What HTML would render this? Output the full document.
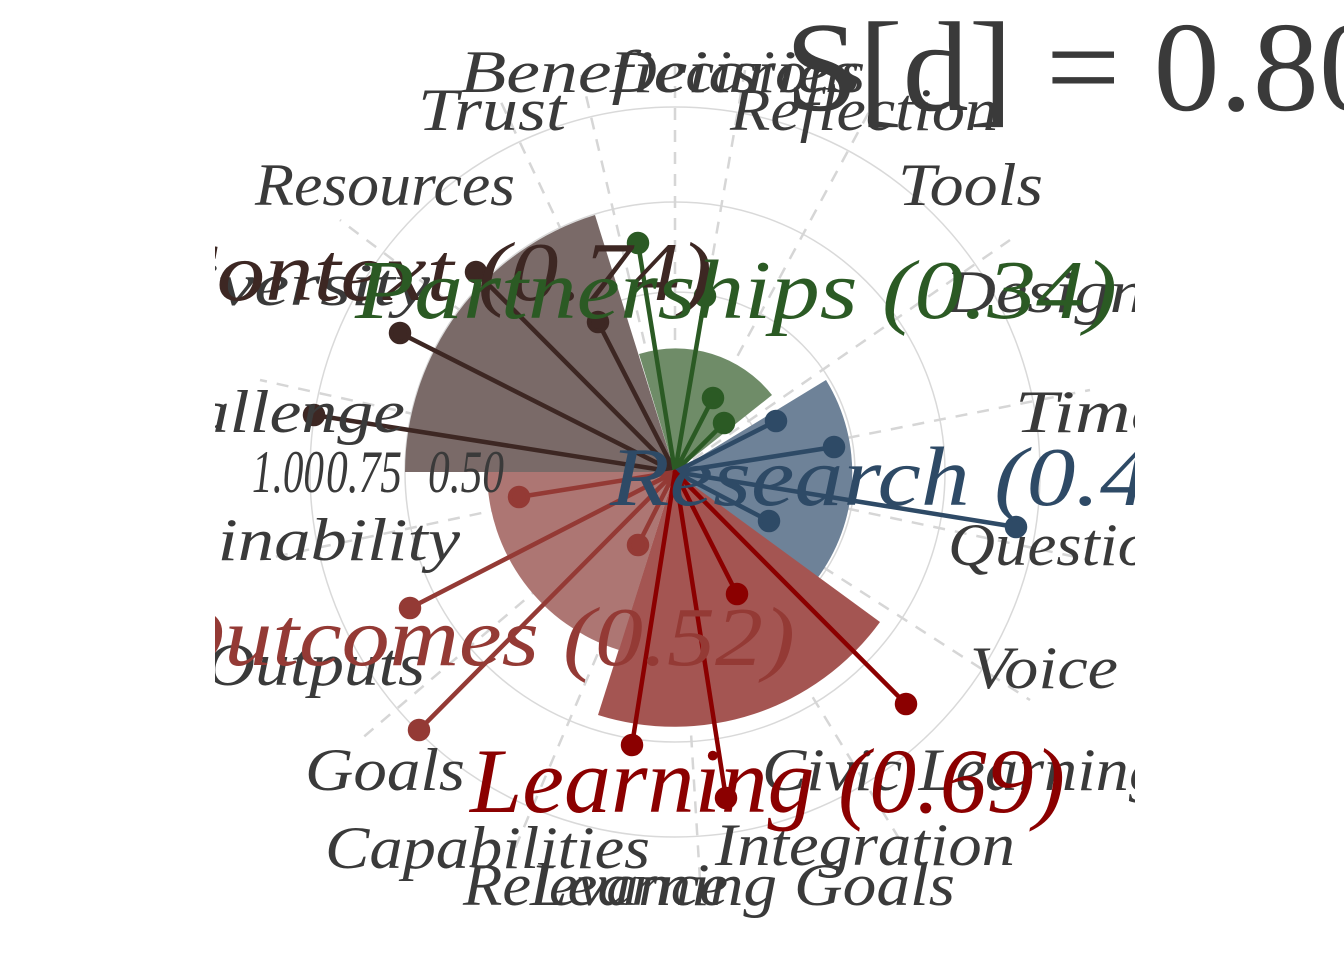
<!DOCTYPE html>
<html><head><meta charset="utf-8"><style>
html,body{margin:0;padding:0;background:#fff;}
svg{display:block;}
text{font-family:"Liberation Serif",serif;}
.l{font-style:italic;fill:#3a3a3a;font-size:60px;}
</style></head><body>
<svg width="1344" height="960" viewBox="0 0 1344 960" xmlns="http://www.w3.org/2000/svg">
<defs><clipPath id="c"><rect x="215" y="0" width="920" height="960"/></clipPath></defs>
<g clip-path="url(#c)">
<g fill="none" stroke="#d9d9d9" stroke-width="1.5">
<circle cx="675" cy="472" r="365"/><circle cx="675" cy="472" r="270"/><circle cx="675" cy="472" r="180"/><circle cx="675" cy="472" r="90"/>
</g>
<g stroke="#d6d6d6" stroke-width="2.5" stroke-dasharray="12,10">
<line x1="675" y1="472" x2="675" y2="60"/><line x1="675" y1="472" x2="745" y2="70"/><line x1="675" y1="472" x2="870" y2="110"/>
<line x1="675" y1="472" x2="1010" y2="240"/><line x1="675" y1="472" x2="1090" y2="390"/><line x1="675" y1="472" x2="1090" y2="560"/>
<line x1="675" y1="472" x2="1030" y2="700"/><line x1="675" y1="472" x2="900" y2="840"/><line x1="675" y1="472" x2="700" y2="880"/>
<line x1="675" y1="472" x2="510" y2="860"/><line x1="675" y1="472" x2="360" y2="740"/><line x1="675" y1="472" x2="260" y2="560"/>
<line x1="675" y1="472" x2="260" y2="380"/><line x1="675" y1="472" x2="340" y2="220"/><line x1="675" y1="472" x2="500" y2="100"/>
<line x1="675" y1="472" x2="580" y2="70"/>
</g>
<path d="M675 472 L405 472 A270 270 0 0 1 595 215 Z" fill="#7a6a68"/>
<path d="M675 472 L639 354 A123 123 0 0 1 772 395 Z" fill="#6f8c68"/>
<path d="M675 472 L826 380 A177 177 0 0 1 816 580 Z" fill="#6e8298"/>
<path d="M675 472 L880 622 A254 254 0 0 1 598 715 Z" fill="#a45552"/>
<path d="M675 472 L619 650 A188 188 0 0 1 487 472 Z" fill="#ad7673"/>
<g stroke-width="4.5" stroke-linecap="round">
<g stroke="#3d2723" fill="#3d2723">
<line x1="675" y1="472" x2="476" y2="272"/><circle cx="476" cy="272" r="9"/>
<line x1="675" y1="472" x2="598" y2="322"/><circle cx="598" cy="322" r="9"/>
<line x1="675" y1="472" x2="400" y2="333"/><circle cx="400" cy="333" r="9"/>
<line x1="675" y1="472" x2="314" y2="415"/><circle cx="314" cy="415" r="9"/>
</g>
<g stroke="#2b5a24" fill="#2b5a24">
<line x1="675" y1="472" x2="638" y2="243"/><circle cx="638" cy="243" r="9"/>
<line x1="675" y1="472" x2="705" y2="296"/><circle cx="705" cy="296" r="9"/>
<line x1="675" y1="472" x2="713" y2="398"/><circle cx="713" cy="398" r="9"/>
<line x1="675" y1="472" x2="724" y2="423"/><circle cx="724" cy="423" r="9"/>
</g>
<g stroke="#2e4a66" fill="#2e4a66">
<line x1="675" y1="472" x2="776" y2="421"/><circle cx="776" cy="421" r="9"/>
<line x1="675" y1="472" x2="834" y2="447"/><circle cx="834" cy="447" r="9"/>
<line x1="675" y1="472" x2="1016" y2="527"/><circle cx="1016" cy="527" r="9"/>
<line x1="675" y1="472" x2="769" y2="521"/><circle cx="769" cy="521" r="9"/>
</g>
<g stroke="#943a35" fill="#943a35">
<line x1="675" y1="472" x2="519" y2="497"/><circle cx="519" cy="497" r="9"/>
<line x1="675" y1="472" x2="638" y2="545"/><circle cx="638" cy="545" r="9"/>
<line x1="675" y1="472" x2="410" y2="608"/><circle cx="410" cy="608" r="9"/>
<line x1="675" y1="472" x2="419" y2="730"/><circle cx="419" cy="730" r="9"/>
</g>
<g stroke="#8b0000" fill="#8b0000">
<line x1="675" y1="472" x2="632" y2="745"/><circle cx="632" cy="745" r="9"/>
<line x1="675" y1="472" x2="726" y2="798"/><circle cx="726" cy="798" r="9"/>
<line x1="675" y1="472" x2="737" y2="594"/><circle cx="737" cy="594" r="9"/>
<line x1="675" y1="472" x2="906" y2="704"/><circle cx="906" cy="704" r="9"/>
</g>
</g>
<g class="l">
<text x="460" y="92" textLength="400" lengthAdjust="spacingAndGlyphs">Beneficiaries</text>
<text x="610" y="92" textLength="255" lengthAdjust="spacingAndGlyphs">Decisions</text>
<text x="418" y="130" textLength="148" lengthAdjust="spacingAndGlyphs">Trust</text>
<text x="730" y="130" textLength="268" lengthAdjust="spacingAndGlyphs">Reflection</text>
<text x="898" y="205" textLength="145" lengthAdjust="spacingAndGlyphs">Tools</text>
<text x="255" y="205" textLength="260" lengthAdjust="spacingAndGlyphs">Resources</text>
<text x="140" y="305" textLength="290" lengthAdjust="spacingAndGlyphs">Diversity</text>
<text x="945" y="312" textLength="200" lengthAdjust="spacingAndGlyphs">Design</text>
<text x="110" y="432" textLength="295" lengthAdjust="spacingAndGlyphs">Challenge</text>
<text x="1015" y="432" textLength="150" lengthAdjust="spacingAndGlyphs">Time</text>
<text x="252" y="492" textLength="72" lengthAdjust="spacingAndGlyphs">1.00</text>
<text x="326" y="492" textLength="76" lengthAdjust="spacingAndGlyphs">0.75</text>
<text x="428" y="492" textLength="76" lengthAdjust="spacingAndGlyphs">0.50</text>
<text x="60" y="560" textLength="400" lengthAdjust="spacingAndGlyphs">Sustainability</text>
<text x="948" y="565" textLength="260" lengthAdjust="spacingAndGlyphs">Questions</text>
<text x="970" y="688" textLength="148" lengthAdjust="spacingAndGlyphs">Voice</text>
<text x="205" y="685" textLength="220" lengthAdjust="spacingAndGlyphs">Outputs</text>
<text x="305" y="790" textLength="160" lengthAdjust="spacingAndGlyphs">Goals</text>
<text x="762" y="790" textLength="400" lengthAdjust="spacingAndGlyphs">Civic Learning</text>
<text x="325" y="868" textLength="325" lengthAdjust="spacingAndGlyphs">Capabilities</text>
<text x="715" y="865" textLength="300" lengthAdjust="spacingAndGlyphs">Integration</text>
<text x="463" y="905" textLength="265" lengthAdjust="spacingAndGlyphs">Relevance</text>
<text x="530" y="905" textLength="425" lengthAdjust="spacingAndGlyphs">Learning Goals</text>
</g>
<g font-style="italic" font-size="84">
<text x="712" y="300" text-anchor="end" fill="#3d2723" textLength="560" lengthAdjust="spacingAndGlyphs">Context (0.74)</text>
<text x="355" y="318" fill="#2b5a24" textLength="762" lengthAdjust="spacingAndGlyphs">Partnerships (0.34)</text>
<text x="610" y="505" fill="#2e4a66" textLength="620" lengthAdjust="spacingAndGlyphs">Research (0.45)</text>
<text x="795" y="665" text-anchor="end" fill="#943a35" textLength="640" lengthAdjust="spacingAndGlyphs">Outcomes (0.52)</text>
<text x="470" y="812" fill="#8b0000" font-size="92" textLength="595" lengthAdjust="spacingAndGlyphs">Learning (0.69)</text>
</g>
</g>
<text x="785" y="110" font-size="128" fill="#3a3a3a" textLength="600" lengthAdjust="spacingAndGlyphs">S[d] = 0.80</text>
</svg>
</body></html>
